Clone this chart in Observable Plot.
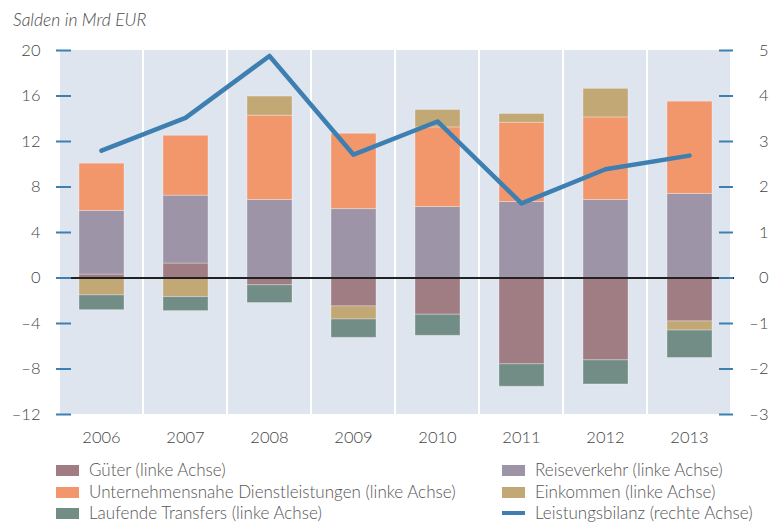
<!DOCTYPE html>
<html><head><meta charset="utf-8">
<script src="https://cdn.jsdelivr.net/npm/d3@7"></script>
<script src="https://cdn.jsdelivr.net/npm/@observablehq/plot@0.6"></script>
<style>
body{margin:0;background:#fff;font-family:Lato,"Open Sans",sans-serif;}
#wrap{position:relative;width:784px;height:525px;overflow:hidden;}
#title{position:absolute;left:13px;top:9px;font-style:italic;font-size:17.5px;color:#4a4a4a;font-weight:300;}
#chart{position:absolute;left:0;top:0;}
.li{position:absolute;height:22px;line-height:22px;font-size:17px;color:#555;white-space:nowrap;font-weight:300;}
.sw{position:absolute;width:23px;height:11px;left:0;top:6px;}
.sw.line{height:4px;top:9px;}
.li span{position:absolute;left:33px;top:0;}
</style></head>
<body><div id="wrap"><div id="title">Salden in Mrd EUR</div><div id="chart"></div></div>
<script>
const years = ["2006","2007","2008","2009","2010","2011","2012","2013"];
const gueter      = [0.3, 1.27, -0.64, -2.5, -3.23, -7.59, -7.24, -3.82];
const reise       = [5.6, 5.97, 6.86, 6.06, 6.24, 6.68, 6.86, 7.39];
const unternehmen = [4.15, 5.26, 7.41, 6.62, 7.0, 6.97, 7.26, 8.11];
const einkommen   = [-1.53, -1.68, 1.68, -1.15, 1.53, 0.77, 2.51, -0.8];
const transfers   = [-1.3, -1.23, -1.56, -1.61, -1.85, -1.97, -2.12, -2.41];
const bilanz      = [2.8, 3.52, 4.88, 2.71, 3.44, 1.64, 2.39, 2.69];
const leftTicks = [-12, -8, -4, 0, 4, 8, 12, 16, 20];

const seriesNames = ["Güter (linke Achse)","Reiseverkehr (linke Achse)","Unternehmensnahe Dienstleistungen (linke Achse)","Einkommen (linke Achse)","Laufende Transfers (linke Achse)"];
const seriesValues = [gueter, reise, unternehmen, einkommen, transfers];
const seriesColors = ["#a07c83","#9d95a7","#f2966c","#c2a874","#728d86"];
const lineName = "Leistungsbilanz (rechte Achse)";
const lineColor = "#3d7fb1";

const rows = [];
seriesNames.forEach((s, i) => years.forEach((y, j) => rows.push({year: y, series: s, value: seriesValues[i][j]})));
const lineRows = years.map((y, j) => ({year: y, value: bilanz[j]}));

const fmt = d => d < 0 ? "\u2013" + Math.abs(d) : String(d);
const W = 784, ML = 56, MR = 51, FW = W - ML - MR;

const chart = Plot.plot({
  width: W, height: 450,
  marginLeft: ML, marginRight: MR, marginTop: 50, marginBottom: 36,
  style: {fontSize: "16.5px", fontFamily: "Lato, 'Open Sans', sans-serif", fontWeight: 300, color: "#444", background: "transparent"},
  x: {domain: years, padding: 0, label: null},
  y: {domain: [-12, 20], label: null},
  color: {domain: seriesNames, range: seriesColors},
  marks: [
    Plot.barY(years, {x: d => d, y1: -12, y2: 20, fill: "#dfe5ee", insetLeft: 1, insetRight: 1}),
    Plot.barY(rows, Plot.stackY({x: "year", y: "value", fill: "series", order: seriesNames,
      insetLeft: 20, insetRight: 19, stroke: "#ffffff", strokeOpacity: 0.3, strokeWidth: 1})),
    Plot.ruleY([0], {stroke: "#222", strokeWidth: 2.2, insetLeft: 15, insetRight: -1}),
    Plot.ruleY(leftTicks, {y: d => d, stroke: lineColor, strokeWidth: 2, insetRight: FW - 15}),
    Plot.ruleY(leftTicks, {y: d => d, stroke: lineColor, strokeWidth: 2, insetLeft: FW - 14}),
    Plot.lineY(lineRows, {x: "year", y: d => d.value * 4, stroke: lineColor, strokeWidth: 4.5}),
    Plot.axisY({ticks: leftTicks, tickFormat: fmt, tickSize: 0, tickPadding: 16, label: null}),
    Plot.axisY({anchor: "right", ticks: leftTicks, tickFormat: d => fmt(d / 4), tickSize: 0, tickPadding: 35, textAnchor: "end", label: null}),
    Plot.axisX({tickSize: 0, tickPadding: 17, label: null})
  ]
});
document.getElementById("chart").appendChild(chart);

const wrap = document.getElementById("wrap");
const legendItems = [
  {name: seriesNames[0], color: seriesColors[0], col: 0, row: 0},
  {name: seriesNames[2], color: seriesColors[2], col: 0, row: 1},
  {name: seriesNames[4], color: seriesColors[4], col: 0, row: 2},
  {name: seriesNames[1], color: seriesColors[1], col: 1, row: 0},
  {name: seriesNames[3], color: seriesColors[3], col: 1, row: 1},
  {name: lineName, color: lineColor, col: 1, row: 2, line: true}
];
legendItems.forEach(it => {
  const d = document.createElement("div");
  d.className = "li";
  d.style.left = (it.col ? 502 : 56) + "px";
  d.style.top = (459 + it.row * 21.5) + "px";
  const s = document.createElement("div");
  s.className = "sw" + (it.line ? " line" : "");
  s.style.background = it.color;
  const t = document.createElement("span");
  t.textContent = it.name;
  d.appendChild(s); d.appendChild(t);
  wrap.appendChild(d);
});
</script>
</body></html>
